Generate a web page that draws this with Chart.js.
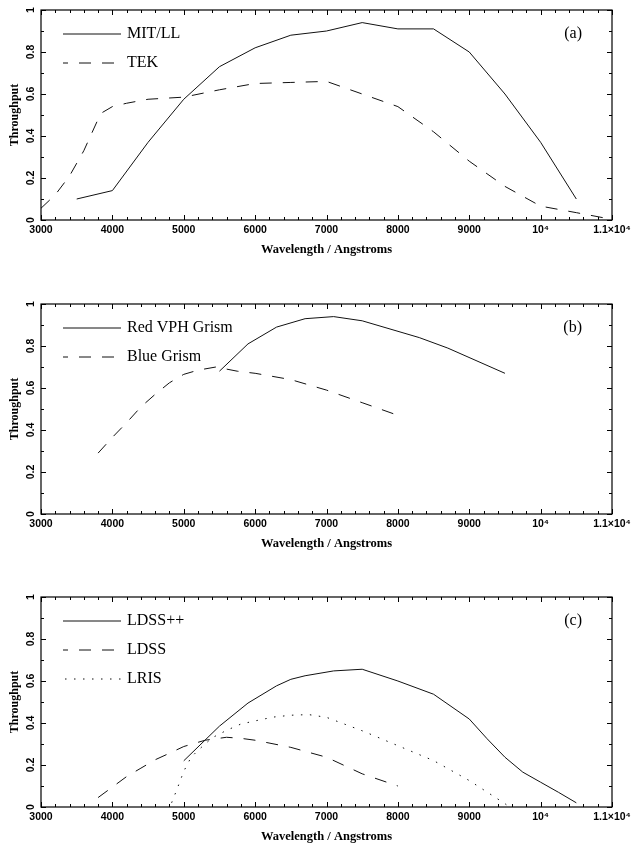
<!DOCTYPE html>
<html>
<head>
<meta charset="utf-8">
<title>Throughput</title>
<script src="https://cdn.jsdelivr.net/npm/chart.js@4/dist/chart.umd.min.js"></script>
<style>
  html, body { margin: 0; padding: 0; background: #fff; }
  #page { position: relative; width: 632px; height: 845px; overflow: hidden; }
  canvas { position: absolute; left: 0; }
</style>
</head>
<body>
<div id="page">
  <canvas id="panel-a" width="632" height="294" style="top:0px"></canvas>
  <canvas id="panel-b" width="632" height="294" style="top:294px"></canvas>
  <canvas id="panel-c" width="632" height="294" style="top:587px"></canvas>
</div>
<script>
// axis ticks
const wavelengthTicks = [3000, 4000, 5000, 6000, 7000, 8000, 9000, 10000, 11000]
const wavelengthLabels = ['3000', '4000', '5000', '6000', '7000', '8000', '9000', '10\u2074', '1.1\u00d710\u2074']
const throughputTicks = [0, 0.2, 0.4, 0.6, 0.8, 1]
const throughputLabels = ['0', '0.2', '0.4', '0.6', '0.8', '1']

// (a) CCDs
const mitllWave = [3500, 4000, 4500, 5000, 5500, 6000, 6500, 7000, 7500, 8000, 8500, 9000, 9500, 10000, 10500]
const mitllThru = [0.10, 0.14, 0.37, 0.575, 0.73, 0.82, 0.88, 0.90, 0.94, 0.91, 0.91, 0.80, 0.60, 0.37, 0.10]
const tekWave = [3000, 3200, 3400, 3600, 3800, 3850, 4000, 4200, 4500, 5000, 5500, 6000, 6500, 7000, 7500, 8000, 8500, 9000, 9500, 10000, 10500, 11000]
const tekThru = [0.056, 0.12, 0.21, 0.33, 0.48, 0.51, 0.54, 0.556, 0.575, 0.585, 0.62, 0.65, 0.655, 0.66, 0.60, 0.54, 0.42, 0.28, 0.16, 0.066, 0.035, 0.003]

// (b) grisms
const redWave = [5500, 5900, 6300, 6700, 7100, 7500, 8300, 8700, 9500]
const redThru = [0.68, 0.81, 0.89, 0.93, 0.94, 0.92, 0.84, 0.79, 0.67]
const blueWave = [3800, 4000, 4200, 4400, 4600, 4800, 5000, 5200, 5450, 5750, 6000, 6500, 7000, 7500, 8000]
const blueThru = [0.29, 0.365, 0.435, 0.51, 0.57, 0.625, 0.665, 0.685, 0.70, 0.68, 0.67, 0.64, 0.59, 0.53, 0.47]

// (c) spectrographs
const ldssppWave = [5000, 5500, 5900, 6300, 6500, 6700, 7100, 7500, 8000, 8500, 9000, 9250, 9500, 9750, 10000, 10250, 10500]
const ldssppThru = [0.22, 0.385, 0.495, 0.577, 0.608, 0.625, 0.648, 0.656, 0.60, 0.537, 0.419, 0.325, 0.237, 0.166, 0.118, 0.07, 0.02]
const ldssWave = [3800, 4000, 4200, 4400, 4600, 4800, 5000, 5300, 5600, 5800, 6000, 6500, 7000, 7500, 8000]
const ldssThru = [0.045, 0.095, 0.145, 0.185, 0.225, 0.256, 0.288, 0.318, 0.332, 0.327, 0.318, 0.284, 0.237, 0.158, 0.10]
const lrisWave = [4830, 4900, 5000, 5100, 5200, 5400, 5600, 5800, 6000, 6250, 6500, 6750, 7000, 7500, 8000, 8500, 9000, 9500, 9560]
const lrisThru = [0.02, 0.08, 0.17, 0.235, 0.27, 0.33, 0.365, 0.395, 0.41, 0.428, 0.437, 0.44, 0.427, 0.363, 0.292, 0.221, 0.126, 0.016, 0]

const SOLID = []
const DASHED = [12, 11]
const DOTTED = [1.5, 7.5]

function points(xs, ys) {
    return xs.map((w, i) => ({ x: w, y: ys[i] }))
}

function series(label, xs, ys, dash) {
    return {
        label: label,
        data: points(xs, ys),
        borderColor: '#111',
        borderWidth: 1,
        borderDash: dash,
        pointRadius: 0,
        tension: 0,
        fill: false
    }
}

// frame with inward ticks on all four sides, plus rotated y labels
const frameTicks = {
    id: 'frameTicks',
    afterDraw(chart) {
        const { ctx, chartArea: a } = chart
        const x = chart.scales.x
        const y = chart.scales.y
        ctx.save()
        ctx.strokeStyle = '#000'
        ctx.lineWidth = 1.2
        ctx.strokeRect(a.left, a.top, a.right - a.left, a.bottom - a.top)

        ctx.lineWidth = 1
        ctx.beginPath()
        for (let w = x.min; w <= x.max; w += 200) {
            const px = Math.round(x.getPixelForValue(w)) + 0.5
            const len = w % 1000 === 0 ? 5 : 3
            ctx.moveTo(px, a.bottom); ctx.lineTo(px, a.bottom - len)
            ctx.moveTo(px, a.top); ctx.lineTo(px, a.top + len)
        }
        for (let i = 0; i <= 10; i++) {
            const py = Math.round(y.getPixelForValue(i / 10)) + 0.5
            const len = i % 2 === 0 ? 5 : 3
            ctx.moveTo(a.left, py); ctx.lineTo(a.left + len, py)
            ctx.moveTo(a.right, py); ctx.lineTo(a.right - len, py)
        }
        ctx.stroke()

        ctx.fillStyle = '#000'
        ctx.font = 'bold 10.5px "Liberation Sans", Arial, sans-serif'
        ctx.textAlign = 'center'
        ctx.textBaseline = 'middle'
        throughputTicks.forEach((v, i) => {
            ctx.save()
            ctx.translate(a.left - 10, y.getPixelForValue(v))
            ctx.rotate(-Math.PI / 2)
            ctx.fillText(throughputLabels[i], 0, 0)
            ctx.restore()
        })
        ctx.restore()
    }
}

// key drawn inside the plot, top left, and the panel tag on the right
const panelKey = {
    id: 'panelKey',
    afterDraw(chart, args, opts) {
        const { ctx, chartArea: a } = chart
        ctx.save()
        ctx.fillStyle = '#000'
        ctx.font = '16px "Liberation Serif", "Times New Roman", serif'
        ctx.textBaseline = 'middle'
        chart.data.datasets.forEach((ds, i) => {
            const ky = a.top + 24 + i * 29
            ctx.beginPath()
            ctx.strokeStyle = ds.borderColor
            ctx.lineWidth = ds.borderWidth
            ctx.setLineDash(ds.borderDash)
            ctx.lineDashOffset = ds.borderDash.length ? 7 : 0
            ctx.moveTo(a.left + 22, ky)
            ctx.lineTo(a.left + 80, ky)
            ctx.stroke()
            ctx.setLineDash([])
            ctx.textAlign = 'left'
            ctx.fillText(ds.label, a.left + 86, ky)
        })
        ctx.textAlign = 'right'
        ctx.fillText(opts.tag, a.right - 30, a.top + 24)
        ctx.restore()
    }
}

Chart.defaults.color = '#000'

function makePanel(id, tag, datasets) {
    const ctx = document.getElementById(id).getContext('2d')
    return new Chart(ctx, {
        type: 'line',
        data: { datasets: datasets },
        plugins: [frameTicks, panelKey],
        options: {
            responsive: false,
            animation: false,
            layout: { padding: { top: 10, left: 0, right: 20, bottom: 30 } },
            plugins: {
                legend: { display: false },
                tooltip: { enabled: false },
                panelKey: { tag: tag }
            },
            scales: {
                x: {
                    type: 'linear',
                    min: 3000,
                    max: 11000,
                    grid: { display: false, drawTicks: false },
                    border: { display: false },
                    afterBuildTicks: s => { s.ticks = wavelengthTicks.map(v => ({ value: v })) },
                    ticks: {
                        autoSkip: false,
                        maxRotation: 0,
                        padding: 4,
                        font: { family: '"Liberation Sans", Arial, sans-serif', size: 10.5, weight: 'bold' },
                        callback: v => wavelengthLabels[wavelengthTicks.indexOf(v)]
                    },
                    title: {
                        display: true,
                        text: 'Wavelength / Angstroms',
                        font: { family: '"Liberation Serif", "Times New Roman", serif', size: 12.5, weight: 'bold' },
                        padding: { top: 0, bottom: 7 }
                    },
                    afterFit: s => { s.height = 44; s.paddingLeft = 0; s.paddingRight = 0 }
                },
                y: {
                    type: 'linear',
                    min: 0,
                    max: 1,
                    grid: { display: false, drawTicks: false },
                    border: { display: false },
                    ticks: { display: false },
                    title: {
                        display: true,
                        text: 'Throughput',
                        font: { family: '"Liberation Serif", "Times New Roman", serif', size: 12, weight: 'bold' },
                        padding: { top: 8, bottom: 0 }
                    },
                    afterFit: s => { s.width = 41 }
                }
            }
        }
    })
}

makePanel('panel-a', '(a)', [
    series('MIT/LL', mitllWave, mitllThru, SOLID),
    series('TEK', tekWave, tekThru, DASHED)
])
makePanel('panel-b', '(b)', [
    series('Red VPH Grism', redWave, redThru, SOLID),
    series('Blue Grism', blueWave, blueThru, DASHED)
])
makePanel('panel-c', '(c)', [
    series('LDSS++', ldssppWave, ldssppThru, SOLID),
    series('LDSS', ldssWave, ldssThru, DASHED),
    series('LRIS', lrisWave, lrisThru, DOTTED)
])
</script>
</body>
</html>
